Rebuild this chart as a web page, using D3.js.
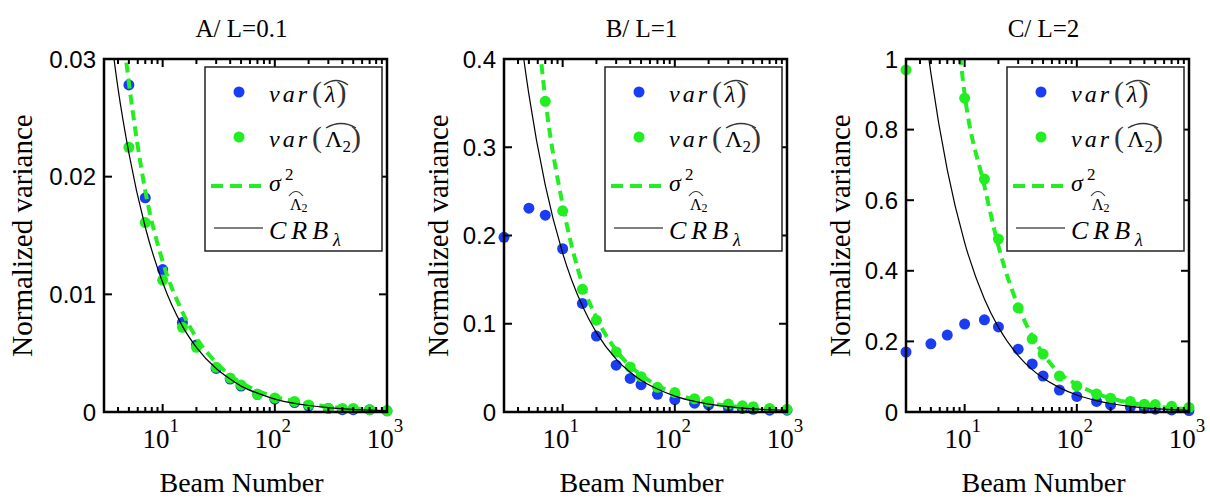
<!DOCTYPE html>
<html>
<head>
<meta charset="utf-8">
<script src="https://cdn.jsdelivr.net/npm/d3@7"></script>
<style>
  body { margin: 0; background: #fff; }
  text { font-family: "Liberation Serif", "DejaVu Serif", serif; fill: #000; }
</style>
</head>
<body>
<div class="canvas"></div>
<script>
// beam numbers where the markers sit
const beamN = [3, 5, 7, 10, 15, 20, 30, 40, 50, 70, 100, 150, 200, 300, 400, 500, 700, 1000];
// beam numbers for the two curves
const curveN = [3, 4, 5, 7, 10, 15, 20, 30, 40, 50, 70, 100, 150, 200, 300, 400, 500, 700, 1000];

// A / L=0.1
const varLambdaA  = [null, 0.0278, 0.0182, 0.0121, 0.0076, 0.0057, 0.0037, 0.0028, 0.0022, 0.0015, 0.0011, 0.0008, 0.0005, 0.0003, 0.0002, 0.0002, 0.0002, 0.0001];
const varLambda2A = [null, 0.0225, 0.0161, 0.0112, 0.0072, 0.0055, 0.0038, 0.0029, 0.0023, 0.0015, 0.0012, 0.0009, 0.0006, 0.0003, 0.0003, 0.0003, 0.0002, 0.0001];
const sigmaA = [0.05, 0.036, 0.028, 0.0188, 0.0128, 0.0085, 0.0063, 0.0042, 0.0031, 0.0025, 0.0018, 0.0013, 0.0009, 0.0007, 0.00045, 0.00035, 0.0003, 0.0002, 0.00015];
const crbA   = [0.037, 0.0275, 0.022, 0.0157, 0.011, 0.0073, 0.0055, 0.0037, 0.0028, 0.0022, 0.0016, 0.0011, 0.00073, 0.00055, 0.00037, 0.00028, 0.00022, 0.00016, 0.00011];

// B / L=1
const varLambdaB  = [0.198, 0.231, 0.223, 0.185, 0.123, 0.086, 0.053, 0.038, 0.031, 0.020, 0.014, 0.010, 0.008, 0.005, 0.004, 0.003, 0.002, 0.002];
const varLambda2B = [null, null, 0.352, 0.228, 0.139, 0.104, 0.068, 0.051, 0.040, 0.028, 0.022, 0.015, 0.012, 0.009, 0.007, 0.006, 0.004, 0.003];
const sigmaB = [0.9, 0.7, 0.55, 0.355, 0.235, 0.145, 0.107, 0.07, 0.052, 0.042, 0.03, 0.021, 0.014, 0.0105, 0.007, 0.0053, 0.0042, 0.003, 0.0021];
const crbB   = [0.6, 0.45, 0.36, 0.257, 0.18, 0.12, 0.09, 0.06, 0.045, 0.036, 0.026, 0.018, 0.012, 0.009, 0.006, 0.0045, 0.0036, 0.0026, 0.0018];

// C / L=2
const varLambdaC  = [0.170, 0.193, 0.218, 0.249, 0.261, 0.241, 0.178, 0.136, 0.102, 0.062, 0.044, 0.030, 0.020, 0.014, 0.010, 0.008, 0.006, 0.004];
const varLambda2C = [0.969, null, null, 0.889, 0.66, 0.49, 0.295, 0.207, 0.164, 0.102, 0.074, 0.051, 0.039, 0.030, 0.022, 0.021, 0.016, 0.013];
const sigmaC = [3, 2.3, 1.9, 1.4, 0.9, 0.64, 0.47, 0.3, 0.215, 0.165, 0.11, 0.078, 0.052, 0.039, 0.026, 0.02, 0.016, 0.011, 0.008];
const crbC   = [1.6, 1.2, 0.96, 0.686, 0.48, 0.32, 0.24, 0.16, 0.12, 0.096, 0.069, 0.048, 0.032, 0.024, 0.016, 0.012, 0.0096, 0.0069, 0.0048];

const titles = ['A/ L=0.1', 'B/ L=1', 'C/ L=2'];
const yMax = [0.03, 0.4, 1];
const yTicksA = [0, 0.01, 0.02, 0.03];
const yTicksB = [0, 0.1, 0.2, 0.3, 0.4];
const yTicksC = [0, 0.2, 0.4, 0.6, 0.8, 1];
const yTickLabelsA = ['0', '0.01', '0.02', '0.03'];
const yTickLabelsB = ['0', '0.1', '0.2', '0.3', '0.4'];
const yTickLabelsC = ['0', '0.2', '0.4', '0.6', '0.8', '1'];
const xMajor = [10, 100, 1000];

const panels = [
  { title: titles[0], ymax: yMax[0], ticks: yTicksA, labels: yTickLabelsA, blue: varLambdaA, green: varLambda2A, sigma: sigmaA, crb: crbA, left: 104, ylab: 72 },
  { title: titles[1], ymax: yMax[1], ticks: yTicksB, labels: yTickLabelsB, blue: varLambdaB, green: varLambda2B, sigma: sigmaB, crb: crbB, left: 504, ylab: 56 },
  { title: titles[2], ymax: yMax[2], ticks: yTicksC, labels: yTickLabelsC, blue: varLambdaC, green: varLambda2C, sigma: sigmaC, crb: crbC, left: 906, ylab: 56 }
];

const blue = '#1a3cf2';
const green = '#22ee22';
const plotTop = 59, plotBottom = 412, pw = 283;

const svg = d3.select('.canvas').append('svg')
    .attr('width', 1210)
    .attr('height', 502);

panels.forEach((p, i) => {
  const x = d3.scaleLog().domain([3, 1000]).range([p.left, p.left + pw]);
  const y = d3.scaleLinear().domain([0, p.ymax]).range([plotBottom, plotTop]);
  const g = svg.append('g');

  // clip for curves
  svg.append('clipPath').attr('id', 'clip' + i)
    .append('rect')
    .attr('x', p.left).attr('y', plotTop)
    .attr('width', pw).attr('height', plotBottom - plotTop);

  // title
  g.append('text')
    .attr('x', p.left + pw / 2 - 4)
    .attr('y', 37)
    .attr('text-anchor', 'middle')
    .attr('font-size', 25)
    .text(p.title);

  // markers: blue first, green on top
  const pts = (arr) => beamN.map((n, k) => ({ n: n, v: arr[k] })).filter(d => d.v != null);
  g.selectAll('.b').data(pts(p.blue)).enter().append('circle')
    .attr('cx', d => x(d.n)).attr('cy', d => y(d.v))
    .attr('r', 5.5).attr('fill', blue);
  g.selectAll('.gr').data(pts(p.green)).enter().append('circle')
    .attr('cx', d => x(d.n)).attr('cy', d => y(d.v))
    .attr('r', 5.5).attr('fill', green);

  // curves
  const line = d3.line()
    .x(d => x(d.n)).y(d => y(d.v))
    .curve(d3.curveMonotoneX);
  const cv = (arr) => curveN.map((n, k) => ({ n: n, v: arr[k] }));
  g.append('path')
    .attr('d', line(cv(p.sigma)))
    .attr('clip-path', 'url(#clip' + i + ')')
    .attr('fill', 'none')
    .attr('stroke', green)
    .attr('stroke-width', 4)
    .attr('stroke-dasharray', '10,6');
  g.append('path')
    .attr('d', line(cv(p.crb)))
    .attr('clip-path', 'url(#clip' + i + ')')
    .attr('fill', 'none')
    .attr('stroke', '#000')
    .attr('stroke-width', 1.2);

  // x ticks (log minor + major), bottom and top, pointing inward
  x.ticks().forEach(t => {
    const major = xMajor.includes(t);
    const len = major ? 8 : 5;
    g.append('line').attr('x1', x(t)).attr('x2', x(t))
      .attr('y1', plotBottom).attr('y2', plotBottom - len)
      .attr('stroke', '#000').attr('stroke-width', 2);
    g.append('line').attr('x1', x(t)).attr('x2', x(t))
      .attr('y1', plotTop).attr('y2', plotTop + len)
      .attr('stroke', '#000').attr('stroke-width', 2);
  });
  xMajor.forEach((t, k) => {
    const tx = g.append('text')
      .attr('x', x(t) - 2)
      .attr('y', 448)
      .attr('text-anchor', 'middle')
      .attr('font-size', 27);
    tx.append('tspan').text('10');
    tx.append('tspan').attr('dy', -16).attr('font-size', 19).text(k + 1);
  });

  // y ticks left and right
  p.ticks.forEach((t, k) => {
    g.append('line').attr('x1', p.left).attr('x2', p.left + 8)
      .attr('y1', y(t)).attr('y2', y(t))
      .attr('stroke', '#000').attr('stroke-width', 2);
    g.append('line').attr('x1', p.left + pw).attr('x2', p.left + pw - 8)
      .attr('y1', y(t)).attr('y2', y(t))
      .attr('stroke', '#000').attr('stroke-width', 2);
    g.append('text')
      .attr('x', p.left - 8)
      .attr('y', y(t))
      .attr('dy', '0.36em')
      .attr('text-anchor', 'end')
      .attr('font-size', 24)
      .style('font-family', '"Liberation Sans", Arial, sans-serif')
      .text(p.labels[k]);
  });

  // frame
  g.append('rect')
    .attr('x', p.left).attr('y', plotTop)
    .attr('width', pw).attr('height', plotBottom - plotTop)
    .attr('fill', 'none')
    .attr('stroke', '#000')
    .attr('stroke-width', 2.5);

  // axis labels
  g.append('text')
    .attr('x', p.left + pw / 2 - 4)
    .attr('y', 492)
    .attr('text-anchor', 'middle')
    .attr('font-size', 28)
    .text('Beam Number');
  g.append('text')
    .attr('transform', 'translate(' + (p.left - p.ylab) + ',' + ((plotTop + plotBottom) / 2) + ') rotate(-90)')
    .attr('text-anchor', 'middle')
    .attr('font-size', 29)
    .text('Normalized variance');

  // legend
  const lx = p.left + 101, ly = 67;
  const lg = g.append('g').attr('transform', 'translate(' + lx + ',' + ly + ')');
  lg.append('rect')
    .attr('width', 177).attr('height', 184)
    .attr('fill', '#fff')
    .attr('stroke', '#222')
    .attr('stroke-width', 1.5);
  lg.append('circle').attr('cx', 34).attr('cy', 25).attr('r', 5.5).attr('fill', blue);
  lg.append('circle').attr('cx', 34).attr('cy', 70).attr('r', 5.5).attr('fill', green);
  lg.append('line').attr('x1', 6).attr('x2', 56).attr('y1', 119).attr('y2', 119)
    .attr('stroke', green).attr('stroke-width', 4).attr('stroke-dasharray', '12,7');
  lg.append('line').attr('x1', 9).attr('x2', 58).attr('y1', 161).attr('y2', 161)
    .attr('stroke', '#000').attr('stroke-width', 1.2);

  const hat = (x0, x1, yb) => 'M' + x0 + ',' + (yb + 4) + ' Q' + ((x0 + x1) / 2) + ',' + (yb - 5) + ' ' + x1 + ',' + (yb + 4);

  // var(lambda hat)
  const t1 = lg.append('text').attr('x', 64).attr('y', 35).attr('font-size', 24);
  t1.append('tspan').attr('font-style', 'italic').attr('letter-spacing', 3).text('var');
  t1.append('tspan').attr('font-size', 30).attr('dx', 2).attr('fill', '#333').text('(');
  t1.append('tspan').attr('font-style', 'italic').attr('dx', 3).text('λ');
  t1.append('tspan').attr('font-size', 30).attr('dx', 1).attr('fill', '#333').text(')');
  lg.append('path').attr('d', hat(119, 143, 14)).attr('fill', 'none').attr('stroke', '#333').attr('stroke-width', 1.3);

  // var(Lambda_2 hat)
  const t2 = lg.append('text').attr('x', 64).attr('y', 80).attr('font-size', 24);
  t2.append('tspan').attr('font-style', 'italic').attr('letter-spacing', 3).text('var');
  t2.append('tspan').attr('font-size', 30).attr('dx', 2).attr('fill', '#333').text('(');
  t2.append('tspan').attr('dx', 3).text('Λ');
  t2.append('tspan').attr('dy', 5).attr('font-size', 17).text('2');
  t2.append('tspan').attr('dy', -5).attr('font-size', 30).attr('dx', 0).attr('fill', '#333').text(')');
  lg.append('path').attr('d', hat(121, 151, 57)).attr('fill', 'none').attr('stroke', '#333').attr('stroke-width', 1.3);

  // sigma^2 with Lambda_2 hat subscript
  lg.append('text').attr('x', 64).attr('y', 124).attr('font-size', 24).attr('font-style', 'italic').text('σ');
  lg.append('text').attr('x', 80).attr('y', 113).attr('font-size', 17).text('2');
  const t3 = lg.append('text').attr('x', 85).attr('y', 143).attr('font-size', 16);
  t3.append('tspan').text('Λ');
  t3.append('tspan').attr('dy', 2).attr('font-size', 12).text('2');
  lg.append('path').attr('d', hat(84, 98, 125)).attr('fill', 'none').attr('stroke', '#333').attr('stroke-width', 1.1);

  // CRB_lambda
  const t4 = lg.append('text').attr('x', 64).attr('y', 172).attr('font-size', 26).attr('font-style', 'italic');
  t4.append('tspan').attr('letter-spacing', 5).text('CRB');
  t4.append('tspan').attr('dy', 7).attr('font-size', 18).text('λ');
});
</script>
</body>
</html>
